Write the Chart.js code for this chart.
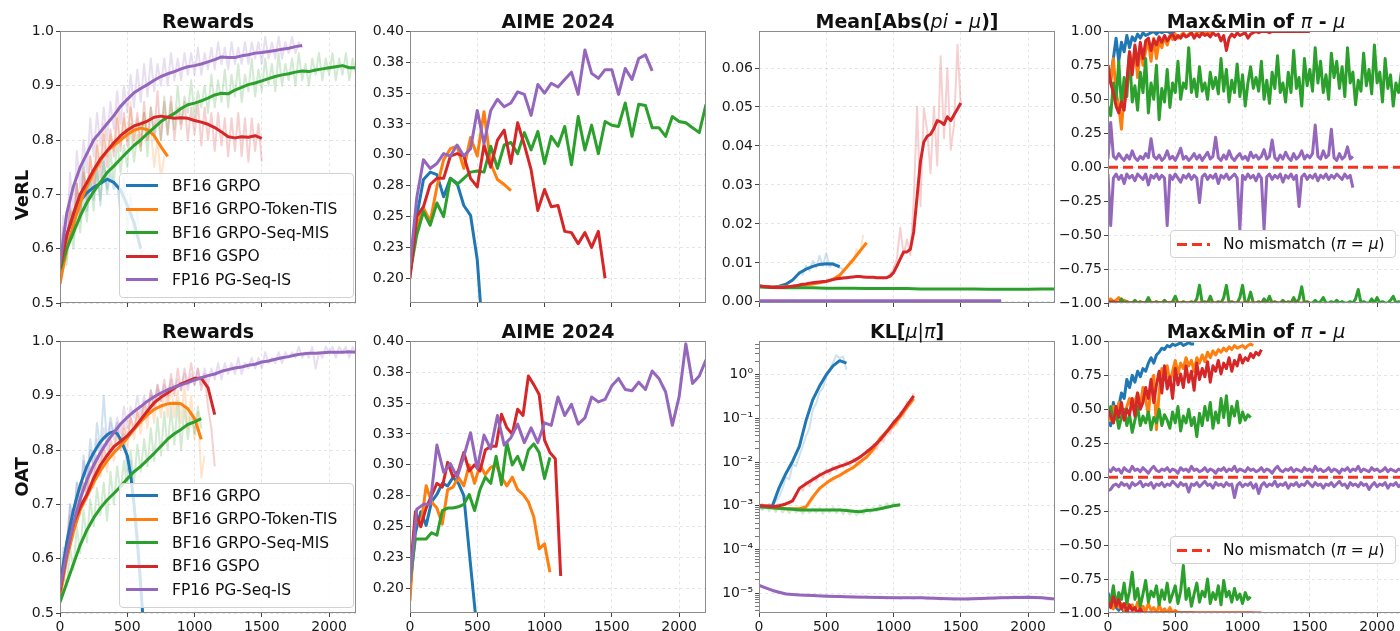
<!DOCTYPE html>
<html>
<head>
<meta charset="utf-8">
<title>Mismatch training curves</title>
<script src="https://cdn.jsdelivr.net/npm/chart.js@4.4.1/dist/chart.umd.min.js"></script>
<style>
  body { margin: 0; background: #fff; font-family: "DejaVu Sans", sans-serif; color: #111; }
  #page { position: relative; width: 1400px; height: 631px; overflow: hidden; background: #fff; }
  .panel { position: absolute; }
  .title { position: absolute; width: 296px; text-align: center; font-size: 19px; font-weight: bold; line-height: 22px; white-space: nowrap; }
  .title i { font-weight: normal; }
  .rowlabel { position: absolute; font-size: 18px; font-weight: bold; white-space: nowrap; transform: translate(-50%, -50%) rotate(-90deg); }
  .legend { position: absolute; box-sizing: border-box; background: rgba(255,255,255,0.8); border: 1px solid #d2d2d2; border-radius: 4px; font-size: 15.5px; color: #111; }
  .legend .item { display: flex; align-items: center; height: 23.5px; white-space: nowrap; }
  .legend .swatch { width: 32px; height: 3px; margin: 0 14px 0 6px; flex: none; }
</style>
</head>
<body>
<div id="page"></div>
<script>
// ---- axes ----
const stepTicks = [0, 500, 1000, 1500, 2000];
const rewardTicks = [0.5, 0.6, 0.7, 0.8, 0.9, 1.0];
const rewardTickLabels = ['0.5', '0.6', '0.7', '0.8', '0.9', '1.0'];
const aimeTicks = [0.2, 0.225, 0.25, 0.275, 0.3, 0.325, 0.35, 0.375, 0.4];
const aimeTickLabels = ['0.20', '0.23', '0.25', '0.28', '0.30', '0.33', '0.35', '0.38', '0.40'];
const absTicks = [0, 0.01, 0.02, 0.03, 0.04, 0.05, 0.06];
const absTickLabels = ['0.00', '0.01', '0.02', '0.03', '0.04', '0.05', '0.06'];
const klTicks = [1e-5, 1e-4, 1e-3, 1e-2, 1e-1, 1];
const klTickLabels = ['10\u207B\u2075', '10\u207B\u2074', '10\u207B\u00B3', '10\u207B\u00B2', '10\u207B\u00B9', '10\u2070'];
const gapTicks = [-1, -0.75, -0.5, -0.25, 0, 0.25, 0.5, 0.75, 1];
const gapTickLabels = ['\u22121.00', '\u22120.75', '\u22120.50', '\u22120.25', '0.00', '0.25', '0.50', '0.75', '1.00'];

const seriesLabels = ['BF16 GRPO', 'BF16 GRPO-Token-TIS', 'BF16 GRPO-Seq-MIS', 'BF16 GSPO', 'FP16 PG-Seq-IS'];
const seriesColors = ['#1f77b4', '#ff7f0e', '#2ca02c', '#d62728', '#9467bd'];
const mismatchLabel = 'No mismatch (<i>\u03C0</i> = <i>\u03BC</i>)';
const mismatchColor = '#f5331f';
const zeroLine = [0, 0];

// ---- VeRL: rewards (smoothed every 50 steps, raw every 25) ----
const verlRewardGrpo = [0.565, 0.625, 0.66, 0.688, 0.703, 0.713, 0.72, 0.728, 0.722, 0.708, 0.68, 0.648, 0.6];
const verlRewardTis = [0.535, 0.6, 0.645, 0.685, 0.715, 0.74, 0.762, 0.78, 0.79, 0.8, 0.81, 0.818, 0.822, 0.819, 0.808, 0.788, 0.77];
const verlRewardMis = [0.56, 0.6, 0.63, 0.66, 0.685, 0.705, 0.722, 0.74, 0.752, 0.765, 0.778, 0.79, 0.8, 0.812, 0.823, 0.834, 0.842, 0.849, 0.858, 0.865, 0.868, 0.872, 0.877, 0.883, 0.886, 0.885, 0.892, 0.897, 0.902, 0.905, 0.909, 0.913, 0.917, 0.92, 0.922, 0.925, 0.927, 0.926, 0.929, 0.931, 0.933, 0.935, 0.937, 0.933, 0.933];
const verlRewardGspo = [0.565, 0.625, 0.665, 0.7, 0.722, 0.745, 0.765, 0.78, 0.795, 0.808, 0.818, 0.826, 0.83, 0.835, 0.842, 0.844, 0.842, 0.84, 0.841, 0.84, 0.836, 0.833, 0.829, 0.823, 0.815, 0.806, 0.804, 0.806, 0.805, 0.808, 0.803];
const verlRewardPg = [0.57, 0.665, 0.715, 0.75, 0.775, 0.8, 0.815, 0.83, 0.845, 0.862, 0.875, 0.887, 0.895, 0.902, 0.91, 0.917, 0.922, 0.926, 0.931, 0.935, 0.937, 0.94, 0.944, 0.948, 0.953, 0.952, 0.952, 0.955, 0.957, 0.96, 0.961, 0.963, 0.965, 0.967, 0.969, 0.972, 0.974];
const verlRewardRawGrpo = [0.56, 0.63, 0.59, 0.68, 0.62, 0.72, 0.65, 0.76, 0.67, 0.73, 0.69, 0.75, 0.68, 0.77, 0.70, 0.74, 0.71, 0.72, 0.66, 0.73, 0.63, 0.70, 0.62, 0.67, 0.59, 0.60];
const verlRewardRawTis = [0.54, 0.61, 0.58, 0.67, 0.63, 0.72, 0.66, 0.75, 0.70, 0.77, 0.72, 0.80, 0.75, 0.83, 0.77, 0.81, 0.78, 0.86, 0.79, 0.84, 0.80, 0.87, 0.79, 0.84, 0.78, 0.85, 0.80, 0.82, 0.75, 0.80, 0.73, 0.77];
const verlRewardRawMis = [0.56, 0.61, 0.57, 0.65, 0.60, 0.68, 0.63, 0.70, 0.65, 0.73, 0.67, 0.75, 0.69, 0.76, 0.71, 0.78, 0.72, 0.80, 0.74, 0.79, 0.75, 0.83, 0.76, 0.81, 0.78, 0.85, 0.77, 0.86, 0.80, 0.84, 0.80, 0.88, 0.81, 0.87, 0.82, 0.90, 0.83, 0.88, 0.85, 0.91, 0.84, 0.89, 0.86, 0.90, 0.85, 0.92, 0.86, 0.91, 0.87, 0.93, 0.86, 0.92, 0.88, 0.94, 0.87, 0.92, 0.89, 0.95, 0.88, 0.93, 0.89, 0.95, 0.90, 0.94, 0.89, 0.96, 0.90, 0.94, 0.91, 0.95, 0.90, 0.96, 0.91, 0.94, 0.90, 0.95, 0.92, 0.96, 0.91, 0.95, 0.92, 0.96, 0.91, 0.95, 0.92, 0.96, 0.91, 0.95, 0.92];
const verlRewardRawGspo = [0.56, 0.64, 0.60, 0.68, 0.63, 0.72, 0.66, 0.74, 0.69, 0.77, 0.71, 0.79, 0.73, 0.81, 0.75, 0.82, 0.77, 0.84, 0.78, 0.85, 0.79, 0.86, 0.80, 0.85, 0.79, 0.87, 0.80, 0.86, 0.81, 0.89, 0.80, 0.87, 0.81, 0.88, 0.80, 0.86, 0.82, 0.87, 0.80, 0.86, 0.81, 0.87, 0.79, 0.86, 0.80, 0.85, 0.78, 0.85, 0.79, 0.84, 0.77, 0.84, 0.78, 0.85, 0.77, 0.84, 0.76, 0.84, 0.78, 0.83, 0.76];
const verlRewardRawPg = [0.57, 0.66, 0.62, 0.74, 0.66, 0.78, 0.71, 0.80, 0.74, 0.84, 0.77, 0.85, 0.79, 0.86, 0.80, 0.87, 0.82, 0.89, 0.83, 0.90, 0.85, 0.92, 0.86, 0.93, 0.87, 0.94, 0.88, 0.95, 0.89, 0.94, 0.90, 0.95, 0.90, 0.96, 0.91, 0.95, 0.91, 0.96, 0.92, 0.96, 0.92, 0.97, 0.92, 0.96, 0.93, 0.97, 0.93, 0.98, 0.94, 0.97, 0.93, 0.98, 0.94, 0.97, 0.94, 0.98, 0.94, 0.98, 0.95, 0.98, 0.94, 0.99, 0.95, 0.98, 0.95, 0.99, 0.95, 0.98, 0.96, 0.99, 0.96, 0.98, 0.97];

// ---- VeRL: AIME 2024 (every 50 steps) ----
const verlAimeGrpo = [0.21, 0.25, 0.28, 0.286, 0.284, 0.266, 0.281, 0.277, 0.259, 0.251, 0.215, 0.14];
const verlAimeTis = [0.204, 0.242, 0.257, 0.246, 0.274, 0.296, 0.305, 0.307, 0.289, 0.314, 0.299, 0.335, 0.293, 0.28, 0.276, 0.271];
const verlAimeMis = [0.204, 0.235, 0.254, 0.243, 0.261, 0.25, 0.281, 0.276, 0.281, 0.286, 0.287, 0.286, 0.307, 0.289, 0.308, 0.31, 0.301, 0.318, 0.304, 0.319, 0.293, 0.315, 0.307, 0.323, 0.292, 0.331, 0.304, 0.324, 0.301, 0.327, 0.324, 0.323, 0.342, 0.315, 0.341, 0.34, 0.322, 0.322, 0.315, 0.331, 0.327, 0.326, 0.322, 0.318, 0.341];
const verlAimeGspo = [0.2, 0.25, 0.258, 0.276, 0.281, 0.281, 0.299, 0.301, 0.299, 0.281, 0.274, 0.308, 0.29, 0.312, 0.32, 0.293, 0.326, 0.308, 0.288, 0.255, 0.272, 0.258, 0.259, 0.238, 0.237, 0.228, 0.237, 0.225, 0.238, 0.2];
const verlAimePg = [0.21, 0.265, 0.296, 0.289, 0.293, 0.301, 0.299, 0.308, 0.299, 0.305, 0.336, 0.309, 0.336, 0.345, 0.339, 0.342, 0.351, 0.349, 0.332, 0.357, 0.35, 0.358, 0.355, 0.361, 0.367, 0.349, 0.385, 0.366, 0.362, 0.369, 0.369, 0.349, 0.37, 0.361, 0.378, 0.381, 0.368];

// ---- VeRL: mean |pi - mu| ----
const verlAbsGrpo = [0.004, 0.0039, 0.0038, 0.004, 0.0045, 0.0056, 0.0074, 0.0084, 0.0091, 0.0096, 0.0098, 0.0097, 0.009];
const verlAbsTis = [0.004, 0.0039, 0.0038, 0.0038, 0.0039, 0.004, 0.0042, 0.0044, 0.0046, 0.0049, 0.0052, 0.0058, 0.0068, 0.0088, 0.0108, 0.013, 0.0152];
const verlAbsMis = [0.0038, 0.0037, 0.0036, 0.0036, 0.0036, 0.0035, 0.0035, 0.0035, 0.0034, 0.0034, 0.0034, 0.0034, 0.0033, 0.0033, 0.0033, 0.0033, 0.0033, 0.0032, 0.0032, 0.0032, 0.0032, 0.0033, 0.0033];
const verlAbsGspo = [0.0041, 0.004, 0.0039, 0.0038, 0.0037, 0.0037, 0.0037, 0.0037, 0.0038, 0.0039, 0.004, 0.0041, 0.0043, 0.0045, 0.0046, 0.0048, 0.0049, 0.005, 0.0051, 0.0052, 0.0053, 0.0055, 0.0057, 0.0059, 0.006, 0.0061, 0.0062, 0.0063, 0.0064, 0.0065, 0.0065, 0.0064, 0.0063, 0.0063, 0.0063, 0.0062, 0.0062, 0.0062, 0.0062, 0.0066, 0.0075, 0.0092, 0.011, 0.0128, 0.0128, 0.0135, 0.018, 0.027, 0.036, 0.041, 0.0425, 0.043, 0.0445, 0.0465, 0.0462, 0.0455, 0.0475, 0.0465, 0.048, 0.0495, 0.051];
const verlAbsPg = [0.0003, 0.0003, 0.0003, 0.0003, 0.0003, 0.0003, 0.0003, 0.0003, 0.0003, 0.0003, 0.0003, 0.0003, 0.0003, 0.0003, 0.0003, 0.0003, 0.0003, 0.0003, 0.0003];
const verlAbsRawGrpo = [0.004, 0.0039, 0.0038, 0.0037, 0.0038, 0.0039, 0.004, 0.0042, 0.0045, 0.005, 0.0057, 0.0065, 0.0078, 0.007, 0.0092, 0.008, 0.0105, 0.0088, 0.0118, 0.0092, 0.0125, 0.009, 0.01, 0.0095, 0.0088, 0.0084];
const verlAbsRawTis = [0.004, 0.004, 0.0039, 0.0038, 0.0038, 0.0038, 0.0038, 0.0039, 0.0039, 0.004, 0.004, 0.0042, 0.0042, 0.0044, 0.0044, 0.0046, 0.0046, 0.0049, 0.0049, 0.0052, 0.0052, 0.0056, 0.0058, 0.0066, 0.0065, 0.0082, 0.0085, 0.0105, 0.0098, 0.0135, 0.0125, 0.0172];
const verlAbsRawGspo = [0.0042, 0.004, 0.0039, 0.0038, 0.0037, 0.0038, 0.0036, 0.0038, 0.0039, 0.0038, 0.0041, 0.004, 0.0044, 0.0044, 0.0047, 0.0047, 0.005, 0.0049, 0.0052, 0.0051, 0.0054, 0.0054, 0.0058, 0.0057, 0.0061, 0.006, 0.0063, 0.0062, 0.0065, 0.0064, 0.0066, 0.0063, 0.0064, 0.0062, 0.0064, 0.0061, 0.0063, 0.006, 0.0064, 0.0072, 0.0085, 0.011, 0.019, 0.012, 0.016, 0.012, 0.026, 0.05, 0.0245, 0.0497, 0.044, 0.033, 0.05, 0.035, 0.063, 0.042, 0.06, 0.039, 0.0455, 0.066, 0.05];

// ---- VeRL: max & min of pi - mu (every 20 steps unless noted) ----
const verlMaxGrpo = [0.72, 0.66, 0.80, 0.95, 0.78, 0.92, 0.85, 0.97, 0.88, 0.96, 0.93, 0.98, 0.95, 0.99, 0.97, 0.98, 0.99, 1.0, 0.98, 1.0, 0.99, 1.0, 1.0, 0.99, 1.0, 1.0];
const verlMinGrpo = [-0.99, -1.0, -1.0, -1.0, -1.0, -1.0, -1.0, -1.0, -1.0, -1.0, -1.0];
const verlMaxTis = [0.75, 0.62, 0.80, 0.55, 0.45, 0.28, 0.55, 0.62, 0.85, 0.70, 0.88, 0.66, 0.90, 0.75, 0.86, 0.92, 0.78, 0.95, 0.80, 0.93, 0.88, 0.96, 0.90, 0.97, 0.94, 0.98, 0.95, 0.97, 0.99, 0.96, 0.98, 0.99, 0.97, 0.99, 1.0, 0.98, 0.99, 1.0, 0.99, 1.0];
const verlMinTis = [-0.98, -0.97, -0.99, -0.98, -0.96, -0.99, -0.98, -0.99, -1.0, -1.0, -1.0, -1.0, -1.0, -1.0, -1.0, -1.0, -1.0, -1.0, -1.0, -1.0, -1.0, -1.0, -1.0, -1.0, -1.0, -1.0, -1.0, -1.0, -1.0, -1.0, -1.0, -1.0, -1.0, -1.0, -1.0, -1.0, -1.0, -1.0, -1.0, -1.0];
const verlMaxMis = [0.45, 0.38, 0.62, 0.50, 0.78, 0.45, 0.66, 0.52, 0.84, 0.48, 0.60, 0.42, 0.70, 0.55, 0.80, 0.40, 0.62, 0.50, 0.75, 0.35, 0.58, 0.48, 0.72, 0.44, 0.62, 0.55, 0.78, 0.50, 0.62, 0.58, 0.88, 0.55, 0.65, 0.52, 0.74, 0.56, 0.62, 0.50, 0.70, 0.58, 0.66, 0.54, 0.80, 0.56, 0.72, 0.48, 0.64, 0.55, 0.76, 0.52, 0.68, 0.45, 0.62, 0.74, 0.58, 0.66, 0.56, 0.78, 0.50, 0.64, 0.47, 0.70, 0.58, 0.82, 0.55, 0.62, 0.48, 0.70, 0.55, 0.86, 0.58, 0.66, 0.45, 0.80, 0.60, 0.72, 0.56, 0.88, 0.62, 0.78, 0.55, 0.68, 0.50, 0.84, 0.66, 0.78, 0.58, 0.74, 0.52, 0.88, 0.62, 0.70, 0.46, 0.64, 0.56, 0.84, 0.60, 0.72, 0.54, 0.90, 0.62, 0.70, 0.48, 0.80, 0.58, 0.68, 0.45, 0.62, 0.55, 0.70, 0.52];
const verlMinMis = [-0.99, -1.0, -0.99, -1.0, -1.0, -0.97, -1.0, -0.99, -1.0, -1.0, -0.98, -1.0, -0.99, -1.0, -1.0, -0.96, -1.0, -1.0, -0.99, -1.0, -1.0, -0.98, -1.0, -1.0, -0.99, -0.95, -1.0, -1.0, -0.99, -1.0, -1.0, -0.99, -1.0, -0.97, -0.87, -1.0, -0.99, -1.0, -0.95, -1.0, -1.0, -0.99, -1.0, -0.96, -0.87, -1.0, -0.99, -1.0, -1.0, -0.96, -0.87, -1.0, -0.99, -0.92, -1.0, -1.0, -0.99, -1.0, -0.97, -1.0, -0.95, -1.0, -0.99, -1.0, -1.0, -0.98, -1.0, -0.99, -1.0, -0.96, -1.0, -0.97, -0.88, -1.0, -0.99, -1.0, -1.0, -0.98, -1.0, -0.99, -0.96, -1.0, -1.0, -0.99, -1.0, -0.98, -1.0, -0.99, -1.0, -1.0, -0.99, -1.0, -0.97, -0.9, -1.0, -0.99, -1.0, -1.0, -0.97, -1.0, -0.96, -1.0, -0.99, -1.0, -1.0, -0.98, -0.95, -1.0, -0.99, -1.0, -1.0];
const verlMaxGspo = [0.75, 0.62, 0.55, 0.45, 0.40, 0.48, 0.42, 0.62, 0.85, 0.68, 0.90, 0.75, 0.92, 0.80, 0.93, 0.95, 0.86, 0.94, 0.90, 0.96, 0.92, 0.97, 0.93, 0.96, 0.98, 0.94, 0.97, 0.95, 0.98, 0.96, 0.97, 0.99, 0.95, 0.98, 0.96, 0.99, 0.97, 0.98, 0.96, 0.99, 0.97, 0.98, 0.93, 0.97, 0.86, 0.95, 0.98, 0.96, 0.99, 0.97, 0.98, 0.99, 0.95, 0.98, 0.99, 1.0, 0.99, 1.0, 1.0, 1.0, 0.99, 1.0, 1.0, 1.0, 1.0, 1.0, 1.0, 1.0, 1.0, 1.0, 1.0, 1.0, 1.0, 1.0, 1.0, 1.0];
const verlMinGspo = [-0.99, -1.0, -1.0, -1.0, -1.0, -1.0, -1.0, -1.0, -1.0, -1.0, -1.0, -1.0, -1.0, -1.0, -1.0, -1.0];
const verlMaxPg = [0.06, 0.33, 0.08, 0.06, 0.10, 0.07, 0.05, 0.09, 0.06, 0.12, 0.07, 0.05, 0.08, 0.06, 0.10, 0.07, 0.21, 0.08, 0.06, 0.09, 0.05, 0.07, 0.12, 0.06, 0.08, 0.05, 0.09, 0.14, 0.06, 0.08, 0.05, 0.07, 0.10, 0.06, 0.09, 0.05, 0.08, 0.11, 0.06, 0.08, 0.22, 0.07, 0.05, 0.09, 0.06, 0.12, 0.07, 0.05, 0.08, 0.10, 0.06, 0.08, 0.05, 0.11, 0.07, 0.09, 0.06, 0.08, 0.13, 0.06, 0.08, 0.20, 0.07, 0.05, 0.09, 0.06, 0.11, 0.07, 0.05, 0.10, 0.06, 0.08, 0.12, 0.06, 0.09, 0.07, 0.10, 0.31, 0.08, 0.06, 0.12, 0.07, 0.09, 0.28, 0.07, 0.05, 0.10, 0.06, 0.08, 0.15, 0.06, 0.08];
const verlMinPg = [-0.05, -0.43, -0.08, -0.05, -0.09, -0.06, -0.12, -0.05, -0.08, -0.06, -0.10, -0.05, -0.07, -0.09, -0.05, -0.13, -0.06, -0.08, -0.05, -0.09, -0.06, -0.08, -0.43, -0.06, -0.09, -0.05, -0.08, -0.11, -0.06, -0.08, -0.05, -0.09, -0.06, -0.08, -0.26, -0.07, -0.05, -0.09, -0.06, -0.08, -0.05, -0.12, -0.06, -0.08, -0.05, -0.09, -0.07, -0.05, -0.08, -0.46, -0.06, -0.09, -0.05, -0.08, -0.06, -0.10, -0.05, -0.08, -0.46, -0.07, -0.05, -0.09, -0.06, -0.08, -0.05, -0.11, -0.06, -0.08, -0.05, -0.09, -0.06, -0.29, -0.07, -0.05, -0.09, -0.06, -0.08, -0.05, -0.10, -0.06, -0.08, -0.05, -0.09, -0.06, -0.08, -0.05, -0.07, -0.09, -0.05, -0.08, -0.06, -0.15];

// ---- OAT: rewards ----
const oatRewardGrpo = [0.55, 0.59, 0.63, 0.66, 0.69, 0.713, 0.735, 0.753, 0.77, 0.783, 0.795, 0.805, 0.815, 0.822, 0.828, 0.832, 0.834, 0.83, 0.82, 0.805, 0.79, 0.755, 0.7, 0.63, 0.55, 0.46];
const oatRewardTis = [0.53, 0.6, 0.65, 0.69, 0.715, 0.74, 0.762, 0.78, 0.795, 0.808, 0.822, 0.838, 0.852, 0.865, 0.875, 0.881, 0.885, 0.886, 0.885, 0.876, 0.858, 0.82];
const oatRewardMis = [0.52, 0.555, 0.59, 0.625, 0.653, 0.675, 0.693, 0.708, 0.72, 0.733, 0.747, 0.76, 0.77, 0.782, 0.794, 0.807, 0.82, 0.83, 0.838, 0.847, 0.852, 0.858];
const oatRewardGspo = [0.54, 0.61, 0.665, 0.695, 0.718, 0.748, 0.772, 0.79, 0.806, 0.816, 0.826, 0.84, 0.856, 0.872, 0.887, 0.897, 0.905, 0.914, 0.922, 0.927, 0.932, 0.932, 0.915, 0.865];
const oatRewardPg = [0.545, 0.61, 0.665, 0.71, 0.745, 0.772, 0.795, 0.815, 0.832, 0.848, 0.86, 0.871, 0.88, 0.89, 0.898, 0.905, 0.911, 0.916, 0.92, 0.924, 0.929, 0.933, 0.937, 0.94, 0.945, 0.948, 0.951, 0.953, 0.956, 0.958, 0.962, 0.964, 0.967, 0.97, 0.972, 0.975, 0.977, 0.978, 0.978, 0.979, 0.98, 0.98, 0.98, 0.981, 0.98];
const oatRewardRawGrpo = [0.55, 0.62, 0.60, 0.70, 0.66, 0.74, 0.70, 0.79, 0.74, 0.82, 0.77, 0.85, 0.80, 0.90, 0.81, 0.86, 0.83, 0.85, 0.80, 0.83, 0.76, 0.78, 0.70, 0.66, 0.56, 0.45];
const oatRewardRawTis = [0.53, 0.58, 0.62, 0.66, 0.64, 0.71, 0.68, 0.74, 0.71, 0.76, 0.73, 0.78, 0.75, 0.80, 0.76, 0.81, 0.78, 0.83, 0.80, 0.84, 0.80, 0.86, 0.82, 0.87, 0.83, 0.88, 0.84, 0.90, 0.85, 0.91, 0.86, 0.91, 0.86, 0.92, 0.86, 0.91, 0.85, 0.92, 0.84, 0.90, 0.82, 0.87, 0.75, 0.79];
const oatRewardRawMis = [0.52, 0.57, 0.55, 0.62, 0.58, 0.66, 0.61, 0.69, 0.63, 0.71, 0.66, 0.73, 0.68, 0.74, 0.67, 0.76, 0.70, 0.77, 0.72, 0.78, 0.73, 0.80, 0.74, 0.81, 0.76, 0.82, 0.77, 0.84, 0.78, 0.86, 0.79, 0.87, 0.80, 0.88, 0.81, 0.89, 0.80, 0.88, 0.82, 0.87, 0.83, 0.88, 0.84];
const oatRewardRawGspo = [0.54, 0.60, 0.63, 0.68, 0.66, 0.71, 0.70, 0.74, 0.72, 0.77, 0.75, 0.79, 0.77, 0.81, 0.78, 0.82, 0.80, 0.84, 0.81, 0.85, 0.82, 0.86, 0.84, 0.87, 0.85, 0.89, 0.86, 0.91, 0.88, 0.92, 0.89, 0.93, 0.89, 0.94, 0.90, 0.95, 0.91, 0.95, 0.92, 0.96, 0.92, 0.95, 0.91, 0.94, 0.88, 0.84, 0.77];
const oatRewardRawPg = [0.55, 0.60, 0.63, 0.70, 0.66, 0.74, 0.70, 0.78, 0.73, 0.80, 0.76, 0.82, 0.78, 0.84, 0.80, 0.85, 0.82, 0.86, 0.83, 0.88, 0.84, 0.88, 0.86, 0.90, 0.86, 0.90, 0.87, 0.91, 0.88, 0.92, 0.89, 0.92, 0.90, 0.93, 0.91, 0.93, 0.91, 0.94, 0.91, 0.94, 0.92, 0.95, 0.92, 0.95, 0.92, 0.95, 0.93, 0.96, 0.93, 0.96, 0.94, 0.96, 0.94, 0.97, 0.94, 0.96, 0.95, 0.97, 0.95, 0.97, 0.95, 0.98, 0.96, 0.97, 0.96, 0.98, 0.96, 0.98, 0.97, 0.98, 0.97, 0.99, 0.97, 0.98, 0.97, 0.99, 0.95, 0.98, 0.97, 0.99, 0.98, 0.99, 0.97, 0.99, 0.98, 0.99, 0.97, 0.99, 0.98];

// ---- OAT: AIME 2024 (every 40 steps, FP16 every 50) ----
const oatAimeGrpo = [0.2, 0.245, 0.262, 0.251, 0.27, 0.276, 0.285, 0.283, 0.29, 0.285, 0.275, 0.23, 0.186, 0.141];
const oatAimeTis = [0.19, 0.26, 0.25, 0.283, 0.27, 0.265, 0.252, 0.28, 0.282, 0.29, 0.283, 0.3, 0.285, 0.3, 0.292, 0.298, 0.3, 0.29, 0.283, 0.29, 0.28, 0.276, 0.27, 0.258, 0.232, 0.236, 0.213];
const oatAimeMis = [0.205, 0.24, 0.24, 0.24, 0.245, 0.243, 0.263, 0.265, 0.265, 0.266, 0.268, 0.276, 0.263, 0.28, 0.29, 0.285, 0.307, 0.284, 0.318, 0.3, 0.307, 0.296, 0.312, 0.317, 0.31, 0.289, 0.306];
const oatAimeGspo = [0.21, 0.262, 0.25, 0.265, 0.275, 0.285, 0.282, 0.302, 0.29, 0.295, 0.31, 0.295, 0.3, 0.295, 0.312, 0.315, 0.315, 0.341, 0.33, 0.325, 0.345, 0.34, 0.372, 0.365, 0.357, 0.32, 0.31, 0.305, 0.21];
const oatAimePg = [0.205, 0.264, 0.268, 0.268, 0.316, 0.294, 0.301, 0.29, 0.307, 0.326, 0.297, 0.324, 0.313, 0.34, 0.316, 0.322, 0.333, 0.318, 0.33, 0.318, 0.334, 0.332, 0.355, 0.34, 0.349, 0.333, 0.338, 0.355, 0.351, 0.353, 0.364, 0.37, 0.361, 0.36, 0.367, 0.361, 0.376, 0.37, 0.359, 0.332, 0.355, 0.398, 0.366, 0.372, 0.385];

// ---- OAT: KL[mu|pi] ----
const oatKlGrpo = [1.0e-3, 9.5e-4, 1.0e-3, 2.6e-3, 5.5e-3, 1.05e-2, 2.3e-2, 9e-2, 0.27, 0.55, 1.0, 1.6, 2.1, 1.85];
const oatKlTis = [1.0e-3, 9.5e-4, 9e-4, 8.7e-4, 8.5e-4, 8.5e-4, 8.5e-4, 9.5e-4, 1.6e-3, 2.5e-3, 3.3e-3, 4.2e-3, 5e-3, 6.2e-3, 7.5e-3, 1.0e-2, 1.3e-2, 2.0e-2, 3.5e-2, 5e-2, 7e-2, 0.11, 0.18, 0.28];
const oatKlMis = [9.5e-4, 9.2e-4, 9e-4, 8.8e-4, 8.5e-4, 8.3e-4, 8e-4, 8e-4, 8e-4, 8e-4, 8e-4, 8e-4, 8e-4, 7.8e-4, 7.5e-4, 7.3e-4, 7.8e-4, 8e-4, 8.5e-4, 9.2e-4, 1.0e-3, 1.05e-3];
const oatKlGspo = [1.0e-3, 1.0e-3, 9.5e-4, 1.0e-3, 1.1e-3, 1.3e-3, 2.5e-3, 3.2e-3, 4.0e-3, 5e-3, 6e-3, 7e-3, 8e-3, 9e-3, 1.05e-2, 1.3e-2, 1.7e-2, 2.3e-2, 3.2e-2, 5e-2, 8e-2, 0.12, 0.2, 0.33];
const oatKlPg = [1.5e-5, 1.15e-5, 9.5e-6, 9.0e-6, 8.8e-6, 8.5e-6, 8.3e-6, 8.1e-6, 8e-6, 7.9e-6, 7.8e-6, 7.8e-6, 7.8e-6, 7.6e-6, 7.4e-6, 7.3e-6, 7.4e-6, 7.6e-6, 7.8e-6, 7.9e-6, 8e-6, 7.8e-6, 7.3e-6];
const oatKlRawGrpo = [1.0e-3, 8.5e-4, 9.5e-4, 1.1e-3, 1.0e-3, 1.3e-3, 1.6e-3, 2.5e-3, 4.5e-3, 4e-3, 9e-3, 8e-3, 1.4e-2, 2.3e-2, 4e-2, 6e-2, 0.16, 0.22, 0.4, 0.5, 0.9, 1.3, 1.9, 2.8, 2.4, 2.6, 1.3];
const oatKlRawTis = [1.0e-3, 9e-4, 9.5e-4, 8.5e-4, 9e-4, 8e-4, 8.8e-4, 8.2e-4, 8.6e-4, 8e-4, 8.8e-4, 8.2e-4, 8.5e-4, 9e-4, 9e-4, 1.1e-3, 1.4e-3, 2e-3, 2.2e-3, 2.8e-3, 3e-3, 3.8e-3, 3.6e-3, 4.6e-3, 4.4e-3, 5.6e-3, 5.5e-3, 7e-3, 6.8e-3, 8.8e-3, 8.5e-3, 1.2e-2, 1.2e-2, 1.7e-2, 1.6e-2, 2.6e-2, 2.6e-2, 4.2e-2, 4e-2, 6.5e-2, 6e-2, 9e-2, 9.5e-2, 0.15, 0.16, 0.26, 0.3];
const oatKlRawMis = [9.5e-4, 8e-4, 1e-3, 7.5e-4, 9.5e-4, 7.2e-4, 9.2e-4, 7e-4, 8.8e-4, 6.8e-4, 8.6e-4, 7e-4, 9e-4, 6.6e-4, 8.8e-4, 6.8e-4, 8.6e-4, 7e-4, 9e-4, 6.6e-4, 8.8e-4, 7e-4, 9.2e-4, 6.8e-4, 8.6e-4, 6.4e-4, 8.4e-4, 6.2e-4, 8e-4, 6e-4, 8e-4, 6.4e-4, 8.8e-4, 7e-4, 9.2e-4, 7.6e-4, 1.05e-3, 8.4e-4, 1.15e-3, 9e-4, 1.2e-3, 9.6e-4, 1.1e-3];
const oatKlRawGspo = [1.0e-3, 1.1e-3, 9.5e-4, 1.05e-3, 9e-4, 1.0e-3, 1.1e-3, 9.5e-4, 1.2e-3, 1.1e-3, 1.4e-3, 1.6e-3, 2.6e-3, 2.2e-3, 3.6e-3, 2.8e-3, 4.5e-3, 3.6e-3, 5.6e-3, 4.4e-3, 6.8e-3, 5.4e-3, 8e-3, 6.4e-3, 9.2e-3, 7.5e-3, 1.05e-2, 8.2e-3, 1.2e-2, 9.5e-3, 1.4e-2, 1.15e-2, 1.9e-2, 1.5e-2, 2.6e-2, 2e-2, 3.6e-2, 2.9e-2, 5.5e-2, 4.5e-2, 9e-2, 7e-2, 0.14, 0.11, 0.24, 0.2, 0.38];
const oatKlRawPg = [1.6e-5, 1.3e-5, 1.2e-5, 1.0e-5, 1.0e-5, 9.2e-6, 9.6e-6, 8.6e-6, 9.2e-6, 8.4e-6, 9e-6, 8.2e-6, 8.8e-6, 8e-6, 8.6e-6, 7.8e-6, 8.5e-6, 7.6e-6, 8.4e-6, 7.5e-6, 8.2e-6, 7.4e-6, 8.2e-6, 7.4e-6, 8.4e-6, 7.2e-6, 8e-6, 7e-6, 7.8e-6, 6.9e-6, 7.6e-6, 6.8e-6, 7.8e-6, 7.1e-6, 8e-6, 7.3e-6, 8.4e-6, 7.5e-6, 8.6e-6, 7.6e-6, 8.6e-6, 7.6e-6, 8.2e-6, 7e-6, 7.4e-6];

// ---- OAT: max & min of pi - mu (every 20 steps) ----
const oatMaxGrpo = [0.40, 0.38, 0.55, 0.45, 0.52, 0.62, 0.58, 0.72, 0.66, 0.75, 0.70, 0.78, 0.74, 0.80, 0.78, 0.84, 0.88, 0.84, 0.90, 0.92, 0.95, 0.94, 0.97, 0.96, 0.98, 0.97, 0.98, 0.99, 0.97, 0.98, 0.99, 0.98, 0.98];
const oatMinGrpo = [-0.85, -0.92, -0.88, -0.96, -0.98, -0.95, -1.0, -0.99, -1.0, -1.0, -1.0, -1.0, -1.0, -1.0, -1.0, -1.0, -1.0, -1.0, -1.0, -1.0, -1.0, -1.0, -1.0, -1.0, -1.0, -1.0, -1.0, -1.0, -1.0, -1.0, -1.0, -1.0, -1.0];
const oatMaxTis = [0.50, 0.42, 0.52, 0.45, 0.55, 0.48, 0.44, 0.52, 0.58, 0.50, 0.56, 0.62, 0.52, 0.66, 0.58, 0.45, 0.70, 0.75, 0.35, 0.62, 0.80, 0.72, 0.82, 0.70, 0.78, 0.86, 0.76, 0.84, 0.80, 0.88, 0.82, 0.86, 0.78, 0.88, 0.84, 0.90, 0.85, 0.92, 0.88, 0.93, 0.90, 0.94, 0.92, 0.95, 0.93, 0.96, 0.94, 0.97, 0.95, 0.96, 0.97, 0.95, 0.97, 0.98, 0.97];
const oatMinTis = [-0.95, -0.92, -0.97, -0.90, -0.96, -0.93, -0.98, -0.91, -0.97, -0.94, -0.99, -0.92, -0.98, -0.95, -0.99, -0.93, -0.98, -0.96, -1.0, -0.94, -0.99, -0.97, -1.0, -0.96, -1.0, -0.98, -1.0, -1.0, -1.0, -1.0, -1.0, -1.0, -1.0, -1.0, -1.0, -1.0, -1.0, -1.0, -1.0, -1.0, -1.0, -1.0, -1.0, -1.0, -1.0, -1.0, -1.0, -1.0, -1.0, -1.0, -1.0, -1.0, -1.0, -1.0, -1.0];
const oatMaxMis = [0.45, 0.52, 0.40, 0.48, 0.36, 0.44, 0.50, 0.38, 0.46, 0.33, 0.42, 0.52, 0.38, 0.45, 0.40, 0.48, 0.35, 0.44, 0.40, 0.50, 0.38, 0.46, 0.42, 0.36, 0.48, 0.40, 0.52, 0.34, 0.45, 0.40, 0.50, 0.38, 0.44, 0.30, 0.47, 0.38, 0.52, 0.42, 0.55, 0.36, 0.48, 0.40, 0.58, 0.44, 0.60, 0.38, 0.52, 0.45, 0.56, 0.40, 0.48, 0.42, 0.46, 0.44];
const oatMinMis = [-0.88, -0.92, -0.80, -0.95, -0.85, -0.90, -0.78, -0.93, -0.84, -0.70, -0.90, -0.82, -0.95, -0.86, -0.76, -0.92, -0.84, -0.88, -0.80, -0.94, -0.83, -0.90, -0.78, -0.92, -0.86, -0.80, -0.93, -0.84, -0.65, -0.90, -0.82, -0.95, -0.86, -0.78, -0.92, -0.84, -0.88, -0.75, -0.93, -0.85, -0.90, -0.80, -0.94, -0.76, -0.88, -0.84, -0.92, -0.82, -0.90, -0.86, -0.93, -0.85, -0.90, -0.88];
const oatMaxGspo = [0.50, 0.45, 0.40, 0.52, 0.44, 0.55, 0.42, 0.50, 0.46, 0.58, 0.45, 0.62, 0.50, 0.55, 0.66, 0.58, 0.72, 0.55, 0.68, 0.78, 0.62, 0.82, 0.65, 0.74, 0.58, 0.80, 0.68, 0.76, 0.66, 0.82, 0.70, 0.78, 0.64, 0.84, 0.72, 0.80, 0.74, 0.85, 0.70, 0.82, 0.78, 0.86, 0.76, 0.84, 0.80, 0.88, 0.78, 0.86, 0.82, 0.90, 0.84, 0.88, 0.86, 0.91, 0.88, 0.92, 0.90, 0.94];
const oatMinGspo = [-0.92, -0.96, -0.88, -0.95, -0.90, -0.97, -0.93, -0.99, -0.94, -0.98, -0.96, -1.0, -0.97, -1.0, -1.0, -1.0, -1.0, -1.0, -1.0, -1.0, -1.0, -1.0, -1.0, -1.0, -1.0, -1.0, -1.0, -1.0, -1.0, -1.0, -1.0, -1.0, -1.0, -1.0, -1.0, -1.0, -1.0, -1.0, -1.0, -1.0, -1.0, -1.0, -1.0, -1.0, -1.0, -1.0, -1.0, -1.0, -1.0, -1.0, -1.0, -1.0, -1.0, -1.0, -1.0, -1.0, -1.0, -1.0];
const oatMaxPg = [0.06, 0.04, 0.07, 0.05, 0.06, 0.03, 0.07, 0.05, 0.04, 0.08, 0.05, 0.06, 0.04, 0.07, 0.05, 0.03, 0.06, 0.08, 0.05, 0.04, 0.06, 0.05, 0.07, 0.04, 0.06, 0.05, 0.03, 0.07, 0.05, 0.06, 0.04, 0.08, 0.05, 0.06, 0.04, 0.05, 0.07, 0.04, 0.06, 0.05, 0.03, 0.06, 0.05, 0.07, 0.04, 0.06, 0.05, 0.08, 0.04, 0.06, 0.05, 0.04, 0.07, 0.05, 0.06, 0.04, 0.05, 0.07, 0.04, 0.06, 0.05, 0.03, 0.06, 0.08, 0.05, 0.04, 0.06, 0.05, 0.07, 0.04, 0.06, 0.05, 0.04, 0.07, 0.05, 0.06, 0.04, 0.08, 0.05, 0.06, 0.04, 0.05, 0.07, 0.04, 0.06, 0.05, 0.03, 0.06, 0.05, 0.07, 0.04, 0.06, 0.05, 0.08, 0.04, 0.06, 0.05, 0.04, 0.07, 0.05, 0.06, 0.04, 0.05, 0.07, 0.04, 0.06, 0.05, 0.04, 0.06, 0.05, 0.06];
const oatMinPg = [-0.10, -0.09, -0.06, -0.05, -0.07, -0.04, -0.06, -0.05, -0.08, -0.04, -0.06, -0.05, -0.03, -0.07, -0.05, -0.06, -0.04, -0.08, -0.05, -0.06, -0.04, -0.07, -0.05, -0.06, -0.03, -0.05, -0.07, -0.04, -0.06, -0.05, -0.11, -0.05, -0.06, -0.04, -0.07, -0.05, -0.03, -0.06, -0.05, -0.08, -0.04, -0.06, -0.05, -0.07, -0.04, -0.06, -0.05, -0.15, -0.06, -0.04, -0.07, -0.05, -0.06, -0.04, -0.08, -0.05, -0.12, -0.06, -0.04, -0.07, -0.05, -0.06, -0.03, -0.07, -0.05, -0.06, -0.04, -0.08, -0.05, -0.06, -0.04, -0.07, -0.05, -0.06, -0.03, -0.05, -0.07, -0.04, -0.06, -0.05, -0.08, -0.05, -0.06, -0.04, -0.07, -0.05, -0.03, -0.06, -0.05, -0.08, -0.04, -0.06, -0.05, -0.07, -0.04, -0.06, -0.05, -0.09, -0.06, -0.04, -0.07, -0.05, -0.06, -0.04, -0.08, -0.05, -0.06, -0.04, -0.07, -0.05, -0.06];

// ---- layout ----
const AXIS_W = 52, PAD = 10, XAXIS_H = 24, PLOT_W = 296, PLOT_H = 272;
const colLeft = [60, 410, 759, 1108];
const rowTop = [31, 341];
const gridColor = 'rgba(0,0,0,0.13)';
const tickFont = { family: "'DejaVu Sans', sans-serif", size: 14 };
const [BLUE, ORANGE, GREEN, RED, PURPLE] = seriesColors;

Chart.defaults.font.family = "'DejaVu Sans', sans-serif";

function withAlpha(hex, a) {
  const n = parseInt(hex.slice(1), 16);
  return `rgba(${(n >> 16) & 255},${(n >> 8) & 255},${n & 255},${a})`;
}

function line(values, step, color, opts = {}) {
  return {
    data: values.map((v, i) => ({ x: i * step, y: v })),
    borderColor: withAlpha(color, opts.alpha ?? 1),
    borderWidth: opts.width ?? 3,
    borderDash: opts.dash ?? [],
    borderJoinStyle: 'round',
    pointRadius: 0,
    tension: 0,
    fill: false,
    clip: 0,
  };
}
const raw = (values, step, color) => line(values, step, color, { alpha: 0.22, width: 2 });

// draws the box around the plot area, like axes spines
const frame = {
  id: 'frame',
  afterDatasetsDraw(chart) {
    const { ctx, chartArea: a } = chart;
    ctx.save();
    ctx.strokeStyle = '#8c8c8c';
    ctx.lineWidth = 1;
    ctx.strokeRect(Math.round(a.left) + 0.5, Math.round(a.top) + 0.5,
      Math.round(a.right - a.left) - 1, Math.round(a.bottom - a.top) - 1);
    ctx.restore();
  }
};

function logMinor(majors, min, max) {
  const out = [];
  majors.concat([majors[0] / 10, majors[majors.length - 1] * 10]).forEach(d => {
    for (let k = 2; k <= 9; k++) {
      const v = k * d;
      if (v > min && v < max) out.push(v);
    }
  });
  return out;
}

const page = document.getElementById('page');

function addPanel(p) {
  const L = colLeft[p.col], T = rowTop[p.row];
  const wrap = document.createElement('div');
  wrap.className = 'panel';
  wrap.style.left = (L - AXIS_W) + 'px';
  wrap.style.top = (T - PAD) + 'px';
  const canvas = document.createElement('canvas');
  canvas.width = AXIS_W + PLOT_W + PAD;
  canvas.height = PAD + PLOT_H + XAXIS_H;
  wrap.appendChild(canvas);
  page.appendChild(wrap);

  const title = document.createElement('div');
  title.className = 'title';
  title.style.left = L + 'px';
  title.style.top = (T - 21) + 'px';
  title.innerHTML = p.title;
  page.appendChild(title);

  const yc = p.y;
  const isLog = yc.type === 'logarithmic';
  const isMajor = v => yc.ticks.some(t => Math.abs(t - v) <= Math.abs(t) * 1e-6 + 1e-12);
  const yTickValues = isLog ? yc.ticks.concat(logMinor(yc.ticks, yc.min, yc.max)) : yc.ticks;

  new Chart(canvas, {
    type: 'line',
    data: { datasets: p.datasets.slice().reverse() },
    options: {
      responsive: false,
      animation: false,
      devicePixelRatio: 1,
      events: [],
      layout: { padding: { top: PAD, right: PAD, left: 0, bottom: 0 } },
      plugins: { legend: { display: false }, tooltip: { enabled: false } },
      scales: {
        x: {
          type: 'linear', min: 0, max: 2200, bounds: 'data',
          afterBuildTicks: s => { s.ticks = stepTicks.map(v => ({ value: v })); },
          afterFit: s => { s.height = XAXIS_H; },
          ticks: { display: p.row === 1, font: tickFont, color: '#1a1a1a', padding: 2, maxRotation: 0, autoSkip: false, callback: v => String(v) },
          grid: { color: gridColor, lineWidth: 0.8, tickLength: 4, tickColor: '#444', tickWidth: 1, tickBorderDash: [] },
          border: { display: false, dash: [3, 3] }
        },
        y: {
          type: yc.type, min: yc.min, max: yc.max, bounds: 'data',
          afterBuildTicks: s => { s.ticks = yTickValues.map(v => ({ value: v })); },
          afterFit: s => { s.width = AXIS_W; },
          ticks: {
            font: tickFont, color: '#1a1a1a', padding: 2, autoSkip: false,
            callback: v => {
              const i = yc.ticks.findIndex(t => Math.abs(t - v) <= Math.abs(t) * 1e-6 + 1e-12);
              return i >= 0 ? yc.labels[i] : '';
            }
          },
          grid: {
            color: ctx => (ctx.tick && isMajor(ctx.tick.value)) ? gridColor : 'rgba(0,0,0,0)',
            lineWidth: 0.8, tickLength: 4, tickWidth: 1, tickBorderDash: [],
            tickColor: ctx => (ctx.tick && isMajor(ctx.tick.value)) ? '#444' : '#777'
          },
          border: { display: false, dash: [3, 3] }
        }
      }
    },
    plugins: [frame]
  });
}

function addRowLabel(text, x, y) {
  const d = document.createElement('div');
  d.className = 'rowlabel';
  d.style.left = x + 'px';
  d.style.top = y + 'px';
  d.textContent = text;
  page.appendChild(d);
}

function addLegend(left, top, width, height, entries, itemHeight) {
  const box = document.createElement('div');
  box.className = 'legend';
  Object.assign(box.style, { left: left + 'px', top: top + 'px', width: width + 'px', height: height + 'px' });
  entries.forEach(e => {
    const item = document.createElement('div');
    item.className = 'item';
    if (itemHeight) item.style.height = itemHeight + 'px';
    const sw = document.createElement('div');
    sw.className = 'swatch';
    sw.style.background = e.dashed
      ? `repeating-linear-gradient(to right, ${e.color} 0 10px, transparent 10px 15px)`
      : e.color;
    if (e.dashed) { sw.style.width = '33px'; sw.style.marginRight = '13px'; }
    const label = document.createElement('span');
    label.innerHTML = e.label;
    item.appendChild(sw);
    item.appendChild(label);
    box.appendChild(item);
  });
  page.appendChild(box);
}

const rewardAxis = { type: 'linear', min: 0.5, max: 1.0, ticks: rewardTicks, labels: rewardTickLabels };
const aimeAxis = { type: 'linear', min: 0.18, max: 0.40, ticks: aimeTicks, labels: aimeTickLabels };
const absAxis = { type: 'linear', min: -0.0003, max: 0.0694, ticks: absTicks, labels: absTickLabels };
const klAxis = { type: 'logarithmic', min: 3.5e-6, max: 5.8, ticks: klTicks, labels: klTickLabels };
const gapAxis = { type: 'linear', min: -1, max: 1, ticks: gapTicks, labels: gapTickLabels };

const gapTitle = 'Max&amp;Min of <i>\u03C0</i> - <i>\u03BC</i>';

const panels = [
  { row: 0, col: 0, title: 'Rewards', y: rewardAxis, datasets: [
    raw(verlRewardRawGrpo, 25, BLUE), raw(verlRewardRawTis, 25, ORANGE), raw(verlRewardRawMis, 25, GREEN),
    raw(verlRewardRawGspo, 25, RED), raw(verlRewardRawPg, 25, PURPLE),
    line(verlRewardGrpo, 50, BLUE), line(verlRewardTis, 50, ORANGE), line(verlRewardMis, 50, GREEN),
    line(verlRewardGspo, 50, RED), line(verlRewardPg, 50, PURPLE)
  ] },
  { row: 0, col: 1, title: 'AIME 2024', y: aimeAxis, datasets: [
    line(verlAimeGrpo, 50, BLUE), line(verlAimeTis, 50, ORANGE), line(verlAimeMis, 50, GREEN),
    line(verlAimeGspo, 50, RED), line(verlAimePg, 50, PURPLE)
  ] },
  { row: 0, col: 2, title: 'Mean[Abs(<i>pi</i> - <i>\u03BC</i>)]', y: absAxis, datasets: [
    raw(verlAbsRawGrpo, 25, BLUE), raw(verlAbsRawTis, 25, ORANGE), raw(verlAbsRawGspo, 25, RED),
    line(verlAbsGrpo, 50, BLUE), line(verlAbsTis, 50, ORANGE), line(verlAbsMis, 100, GREEN),
    line(verlAbsGspo, 25, RED), line(verlAbsPg, 100, PURPLE)
  ] },
  { row: 0, col: 3, title: gapTitle, y: gapAxis, datasets: [
    line(verlMaxGrpo, 20, BLUE), line(verlMinGrpo, 50, BLUE),
    line(verlMaxTis, 20, ORANGE), line(verlMinTis, 20, ORANGE),
    line(verlMaxMis, 20, GREEN), line(verlMinMis, 20, GREEN),
    line(verlMaxGspo, 20, RED), line(verlMinGspo, 100, RED),
    line(verlMaxPg, 20, PURPLE), line(verlMinPg, 20, PURPLE),
    line(zeroLine, 2200, mismatchColor, { dash: [10, 5] })
  ] },
  { row: 1, col: 0, title: 'Rewards', y: rewardAxis, datasets: [
    raw(oatRewardRawGrpo, 25, BLUE), raw(oatRewardRawTis, 25, ORANGE), raw(oatRewardRawMis, 25, GREEN),
    raw(oatRewardRawGspo, 25, RED), raw(oatRewardRawPg, 25, PURPLE),
    line(oatRewardGrpo, 25, BLUE), line(oatRewardTis, 50, ORANGE), line(oatRewardMis, 50, GREEN),
    line(oatRewardGspo, 50, RED), line(oatRewardPg, 50, PURPLE)
  ] },
  { row: 1, col: 1, title: 'AIME 2024', y: aimeAxis, datasets: [
    line(oatAimeGrpo, 40, BLUE), line(oatAimeTis, 40, ORANGE), line(oatAimeMis, 40, GREEN),
    line(oatAimeGspo, 40, RED), line(oatAimePg, 50, PURPLE)
  ] },
  { row: 1, col: 2, title: 'KL[<i>\u03BC</i><span style="font-weight:normal">|</span><i>\u03C0</i>]', y: klAxis, datasets: [
    raw(oatKlRawGrpo, 25, BLUE), raw(oatKlRawTis, 25, ORANGE), raw(oatKlRawMis, 25, GREEN),
    raw(oatKlRawGspo, 25, RED), raw(oatKlRawPg, 50, PURPLE),
    line(oatKlGrpo, 50, BLUE), line(oatKlTis, 50, ORANGE), line(oatKlMis, 50, GREEN),
    line(oatKlGspo, 50, RED), line(oatKlPg, 100, PURPLE)
  ] },
  { row: 1, col: 3, title: gapTitle, y: gapAxis, datasets: [
    line(oatMaxGrpo, 20, BLUE), line(oatMinGrpo, 20, BLUE),
    line(oatMaxTis, 20, ORANGE), line(oatMinTis, 20, ORANGE),
    line(oatMaxMis, 20, GREEN), line(oatMinMis, 20, GREEN),
    line(oatMaxGspo, 20, RED), line(oatMinGspo, 20, RED),
    line(oatMaxPg, 20, PURPLE), line(oatMinPg, 20, PURPLE),
    line(zeroLine, 2200, mismatchColor, { dash: [10, 5] })
  ] }
];

panels.forEach(addPanel);

addRowLabel('VeRL', 21, 195);
addRowLabel('OAT', 21, 477);

const methodEntries = seriesLabels.map((label, i) => ({ label, color: seriesColors[i] }));
const mismatchEntries = [{ label: mismatchLabel, color: mismatchColor, dashed: true }];
addLegend(119, 173, 235, 125, methodEntries);
addLegend(119, 483, 235, 125, methodEntries);
addLegend(1170, 230, 226, 28, mismatchEntries, 26);
addLegend(1170, 536, 226, 28, mismatchEntries, 26);
</script>
</body>
</html>
